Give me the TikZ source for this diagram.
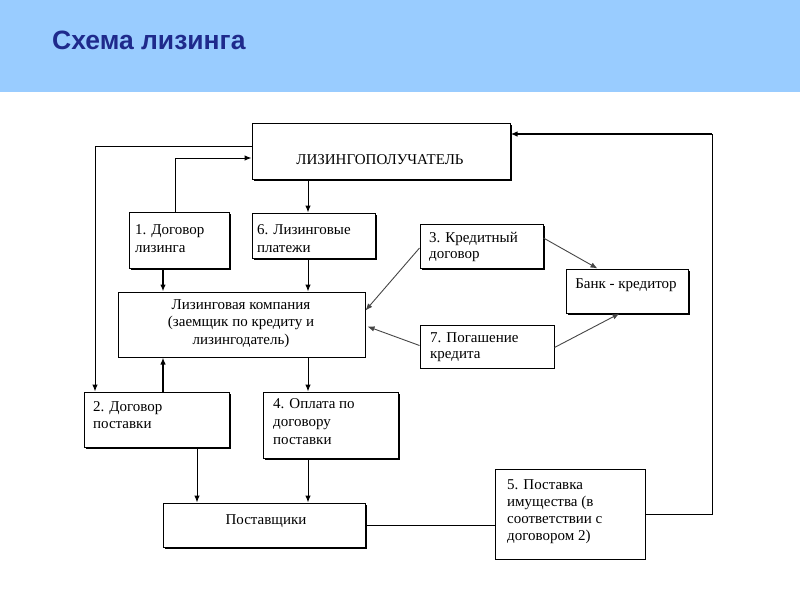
\documentclass[tikz,border=0pt]{standalone}
\usepackage{fontspec}
\setmainfont{Liberation Serif}
\newfontfamily\titlefont{Liberation Sans}
\usetikzlibrary{arrows.meta,shadows,calc}
\definecolor{bandblue}{HTML}{99CCFF}
\definecolor{titleblue}{HTML}{1F2A8C}
\definecolor{diagline}{HTML}{454545}
\begin{document}
\begin{tikzpicture}[x=1pt,y=-1pt,
  box/.style={draw=black, line width=1pt, fill=white, inner sep=0pt},
  shd/.style={drop shadow={shadow xshift=1.6pt, shadow yshift=-1.6pt, opacity=1, fill=black}},
  txt/.style={inner sep=0pt, font=\fontsize{15}{18}\selectfont, align=left, anchor=base west},
  ctxt/.style={inner sep=0pt, font=\fontsize{15}{17.5}\selectfont, align=center, anchor=base},
  conn/.style={draw=black, line width=1pt},
  arr/.style={conn, -{Latex[length=7pt,width=5.5pt]}},
  thickarr/.style={arr, line width=2pt},
  darr/.style={draw=diagline, line width=0.9pt, -{Latex[length=7pt,width=5.5pt]}},
]
\useasboundingbox (0,0) rectangle (800,600);
\fill[bandblue] (0,0) rectangle (800,92);
\node[anchor=base west, inner sep=0pt, text=titleblue, font=\titlefont\bfseries\fontsize{26.5}{30}\selectfont] (title) at (52,49) {Схема лизинга};

% boxes
\node[box, shd, minimum width=258, minimum height=56] (lp) at (381,151) {};
\node[box, shd, minimum width=100, minimum height=56] (b1) at (179,240.5) {};
\node[box, shd, minimum width=123, minimum height=45] (b6) at (314,235.5) {};
\node[box, shd, minimum width=123, minimum height=44] (b3) at (481.5,246) {};
\node[box, shd, minimum width=122, minimum height=44] (bank) at (627,291) {};
\node[box, minimum width=247, minimum height=65] (lc) at (241.5,324.5) {};
\node[box, minimum width=134, minimum height=43] (b7) at (487,346.5) {};
\node[box, shd, minimum width=145, minimum height=55] (b2) at (156.5,419.5) {};
\node[box, shd, minimum width=135, minimum height=66] (b4) at (330.5,425) {};
\node[box, shd, minimum width=202, minimum height=44] (sup) at (264,525) {};
\node[box, minimum width=150, minimum height=90] (b5) at (570,514) {};

% texts (multi-line nodes: base = last line)
\node[ctxt, font=\fontsize{15}{18}\selectfont] (tlp) at (380,164) {ЛИЗИНГОПОЛУЧАТЕЛЬ};
\node[txt] (t1) at (135,252) {1. Договор\\лизинга};
\node[txt] (t6) at (257,252) {6. Лизинговые\\платежи};
\node[txt, font=\fontsize{15}{16.5}\selectfont] (t3) at (429,258.5) {3. Кредитный\\договор};
\node[ctxt] (tbank) at (626,288) {Банк - кредитор};
\node[ctxt] (tlc) at (241,344) {Лизинговая компания\\(заемщик по кредиту и\\лизингодатель)};
\node[txt, font=\fontsize{15}{16}\selectfont] (t7) at (430,358) {7. Погашение\\кредита};
\node[txt, font=\fontsize{15}{17.5}\selectfont] (t2) at (93,428.5) {2. Договор\\поставки};
\node[txt] (t4) at (273,444) {4. Оплата по\\договору\\поставки};
\node[ctxt] (tsup) at (266,524) {Поставщики};
\node[txt, font=\fontsize{15}{17}\selectfont] (t5) at (507,540) {5. Поставка\\имущества (в\\соответствии с\\договором 2)};

% helper coordinates
\coordinate (p1) at (95,146);
\coordinate (p2) at (175,158);
\coordinate (xa) at (163,0);
\coordinate (xb) at (308,0);
\coordinate (xc) at (197,0);
\coordinate (p3) at (712,134);

% connectors
\draw[arr] (lp.west |- p1) -| (b2.north -| p1);
\draw[arr] (b1.north -| p2) |- (lp.west |- p2);
\draw[thickarr] (b1.south -| xa) -- (lc.north -| xa);
\draw[arr] (lp.south -| xb) -- (b6.north -| xb);
\draw[arr] (b6.south -| xb) -- (lc.north -| xb);
\draw[darr] ($(b3.west)+(0,2)$) -- ($(lc.east)+(0,-14)$);
\draw[darr] ($(b3.east)+(0,-8)$) -- ($(bank.north west)+(32,0)$);
\draw[darr] ($(b7.west)+(0,-1)$) -- ($(lc.east)+(2,2)$);
\draw[darr] ($(b7.east)+(0,1)$) -- ($(bank.south west)+(54,0)$);
\draw[thickarr] (b2.north -| xa) -- (lc.south -| xa);
\draw[arr] (lc.south -| xb) -- (b4.north -| xb);
\draw[arr] (b2.south -| xc) -- (sup.north -| xc);
\draw[arr] (b4.south -| xb) -- (sup.north -| xb);
\draw[conn] (sup.east) -- (sup.east -| b5.west);
\draw[conn] (b5.east) -| (p3);
\draw[arr, line width=1.6pt] (p3) -- (lp.east |- p3);
\end{tikzpicture}
\end{document}
